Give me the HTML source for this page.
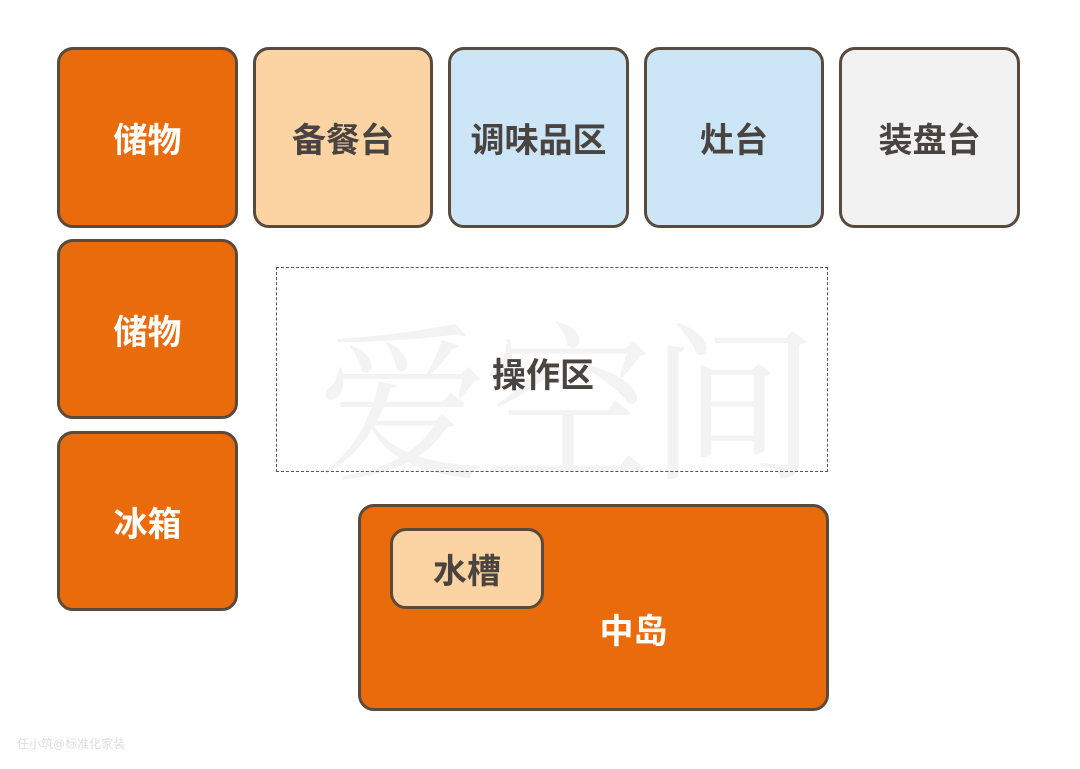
<!DOCTYPE html>
<html><head><meta charset="utf-8"><style>
body{margin:0;width:1080px;height:769px;background:#fff;position:relative;overflow:hidden;font-family:"Liberation Sans","Noto Sans CJK SC",sans-serif;}
.b{position:absolute;box-sizing:border-box;border:3px solid #5a4a3c;border-radius:16px;display:flex;align-items:center;justify-content:center;font-size:34px;font-weight:bold;color:#4a4440;}
.o{background:#e96b0b;color:#fff;}
.p{background:#fcd3a2;}
.l{background:#cde6f7;}
.g{background:#f2f2f2;}
.wm{position:absolute;left:318px;top:270px;font-size:170px;color:#f3f3f3;font-family:"Noto Serif CJK SC",serif;letter-spacing:-5px;}
</style></head><body>
<div class="wm">爱空间</div>
<div class="b o" style="left:57px;top:47px;width:181px;height:181px">储物</div>
<div class="b p" style="left:253px;top:47px;width:180px;height:181px">备餐台</div>
<div class="b l" style="left:448px;top:47px;width:181px;height:181px">调味品区</div>
<div class="b l" style="left:644px;top:47px;width:180px;height:181px">灶台</div>
<div class="b g" style="left:839px;top:47px;width:181px;height:181px">装盘台</div>
<div class="b o" style="left:57px;top:239px;width:181px;height:180px">储物</div>
<div class="b o" style="left:57px;top:431px;width:181px;height:180px">冰箱</div>
<div style="position:absolute;left:276px;top:267px;width:552px;height:205px;box-sizing:border-box;border:1.5px dashed #555;display:flex;align-items:center;justify-content:center;font-size:34px;font-weight:bold;color:#4a4440;padding-right:18px;padding-top:6px">操作区</div>
<div class="b o" style="left:358px;top:504px;width:471px;height:207px;padding-left:80px;padding-top:42px">中岛</div>
<div class="b p" style="left:390px;top:528px;width:154px;height:81px">水槽</div>
<div style="position:absolute;left:17px;top:735px;font-size:12px;color:#ddd">任小筑@标准化家装</div>
</body></html>
